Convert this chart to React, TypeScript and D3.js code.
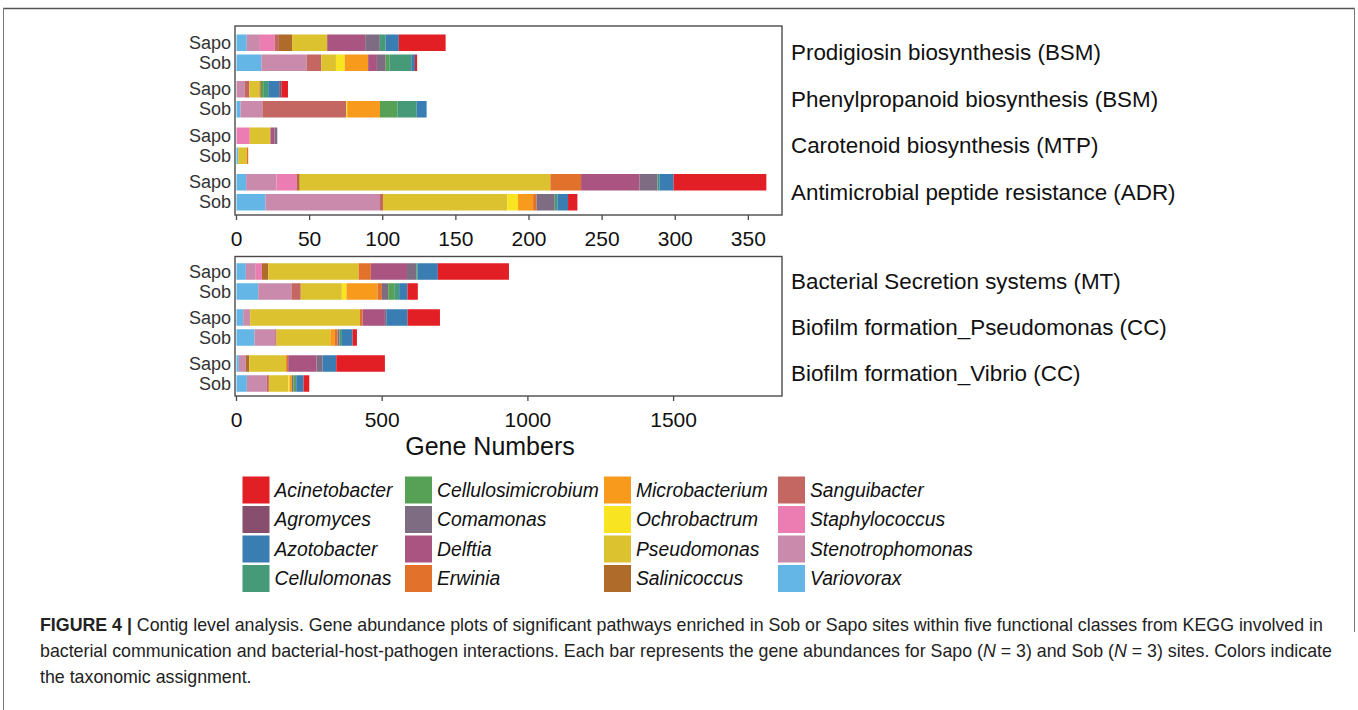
import React from "react";
import * as d3 from "d3";

// ---------- data ----------
const species = [
  "Acinetobacter", "Agromyces", "Azotobacter", "Cellulomonas",
  "Cellulosimicrobium", "Comamonas", "Delftia", "Erwinia",
  "Microbacterium", "Ochrobactrum", "Pseudomonas", "Salinicoccus",
  "Sanguibacter", "Staphylococcus", "Stenotrophomonas", "Variovorax",
];
const speciesColors = [
  "#E31F26", "#874E6D", "#3A7DB3", "#479A78",
  "#56A155", "#7E6D82", "#AA5581", "#E2712C",
  "#F89B1D", "#F8E421", "#DCC22F", "#AE6B2A",
  "#C46662", "#EC7DB2", "#C98AAC", "#63B6E6",
];
const sites = ["Sapo", "Sob"];
const topPathways = [
  "Prodigiosin biosynthesis (BSM)",
  "Phenylpropanoid biosynthesis (BSM)",
  "Carotenoid biosynthesis (MTP)",
  "Antimicrobial peptide resistance (ADR)",
];
const bottomPathways = [
  "Bacterial Secretion systems (MT)",
  "Biofilm formation_Pseudomonas (CC)",
  "Biofilm formation_Vibrio (CC)",
];
const topTicks = [0, 50, 100, 150, 200, 250, 300, 350];
const bottomTicks = [0, 500, 1000, 1500];

// values in species order (Acinetobacter ... Variovorax)
const prodigiosinSapo = [32, 0, 9, 4, 0, 10, 26, 0, 0, 0, 24, 9, 3, 10, 9, 7];
const prodigiosinSob = [1.5, 0, 2.5, 15, 2.5, 6, 6, 0, 16, 6, 10, 0, 10, 0, 31, 17];
const phenylpropanoidSapo = [4.3, 1.7, 7.5, 3, 2, 0, 0, 1, 0, 0, 7, 0, 3, 0, 5.7, 0];
const phenylpropanoidSob = [0, 0, 6.8, 13.2, 11.9, 0, 0, 0, 22.4, 0.7, 0, 0, 57.3, 0, 15, 2.7];
const carotenoidSapo = [0, 0, 0, 0, 0, 1.8, 2.9, 0, 0, 0, 14.1, 0, 0, 9.1, 0, 0];
const carotenoidSob = [0, 0, 0, 0, 0, 0, 0, 0.9, 0, 0, 5.9, 0, 0, 0, 0, 1.2];
const adrSapo = [63.4, 0, 9.8, 1.2, 0, 12.3, 40, 21, 0, 0, 171.4, 1.8, 0, 14.1, 20.7, 6.6];
const adrSob = [6.4, 0, 7.3, 1.8, 0, 12.5, 0, 2.3, 10.3, 7.3, 85, 0, 2.1, 0, 78.3, 19.8];

const secretionSapo = [244, 0, 69, 5, 0, 32, 124, 42, 0, 0, 310, 22, 0, 21, 34, 32];
const secretionSob = [35.5, 0, 28.6, 17, 20.6, 21.6, 0, 15, 106.5, 16, 141, 0, 32, 0, 114, 74.5];
const biofilmPseudoSapo = [111, 0, 73.3, 0, 0, 4.6, 76.6, 9.2, 0, 0, 376.6, 0, 0, 0, 24, 22.9];
const biofilmPseudoSob = [14.9, 0, 36.6, 8, 0, 6.9, 0, 9.2, 16, 0, 184.3, 0, 4.6, 0, 71, 61.8];
const biofilmVibrioSapo = [167, 0, 47, 0, 0, 20.6, 97.3, 6.9, 0, 0, 127, 11.5, 0, 0, 24, 8];
const biofilmVibrioSob = [19.5, 0, 25.2, 0, 9.2, 5.7, 0, 0, 8, 4.6, 66.4, 0, 6.9, 0, 68.7, 35.5];

const topRows = [
  [prodigiosinSapo, prodigiosinSob],
  [phenylpropanoidSapo, phenylpropanoidSob],
  [carotenoidSapo, carotenoidSob],
  [adrSapo, adrSob],
];
const bottomRows = [
  [secretionSapo, secretionSob],
  [biofilmPseudoSapo, biofilmPseudoSob],
  [biofilmVibrioSapo, biofilmVibrioSob],
];

const captionLines = [
  "Contig level analysis. Gene abundance plots of significant pathways enriched in Sob or Sapo sites within five functional classes from KEGG involved in",
  "bacterial communication and bacterial-host-pathogen interactions. Each bar represents the gene abundances for Sapo (",
  ") and Sob (",
  ") sites. Colors indicate",
  "the taxonomic assignment.",
];

const FONT = "'Liberation Sans', Arial, Helvetica, sans-serif";
const colorScale = d3.scaleOrdinal<string, string>().domain(species).range(speciesColors);

type PanelProps = {
  pathways: string[];
  rows: number[][][];
  xMax: number;
  ticks: number[];
  boxTop: number;
  boxBottom: number;
  bandStart: number;
  bandEnd: number;
};

const BOX_LEFT = 235;
const BOX_RIGHT = 782;

function Panel({ pathways, rows, xMax, ticks, boxTop, boxBottom, bandStart, bandEnd }: PanelProps) {
  const x = d3.scaleLinear().domain([0, xMax]).range([236.5, BOX_RIGHT]);
  const yBand = d3.scaleBand().domain(pathways).range([bandStart, bandEnd]);
  const ySite = d3.scalePoint().domain(sites).range([-10, 10]);
  const barH = 16.5;

  const records: any[] = [];
  pathways.forEach((p, pi) => {
    sites.forEach((s, si) => {
      const rec: any = { pathway: p, site: s };
      species.forEach((sp, k) => (rec[sp] = rows[pi][si][k]));
      records.push(rec);
    });
  });
  const stackKeys = species.slice().reverse();
  const series = d3.stack().keys(stackKeys)(records);

  const yc = (d: any) => (yBand(d.pathway) as number) + yBand.bandwidth() / 2 + (ySite(d.site) as number);

  return (
    <g>
      {series.map((ser) => (
        <g key={ser.key} fill={colorScale(ser.key)}>
          {ser.map((seg: any, i: number) => {
            const w = x(seg[1]) - x(seg[0]);
            if (w <= 0) return null;
            return (
              <rect
                key={i}
                x={x(seg[0])}
                y={yc(seg.data) - barH / 2}
                width={w}
                height={barH}
              />
            );
          })}
        </g>
      ))}
      <rect
        x={BOX_LEFT}
        y={boxTop}
        width={BOX_RIGHT - BOX_LEFT}
        height={boxBottom - boxTop}
        fill="none"
        stroke="#4a4a4a"
        strokeWidth={1.4}
      />
      {records.map((d, i) => (
        <text
          key={"s" + i}
          x={231}
          y={yc(d)}
          textAnchor="end"
          dominantBaseline="central"
          fontSize={18}
          fill="#333"
          fontFamily={FONT}
        >
          {d.site}
        </text>
      ))}
      {pathways.map((p) => (
        <text
          key={p}
          x={791}
          y={(yBand(p) as number) + yBand.bandwidth() / 2}
          dominantBaseline="central"
          fontSize={22.4}
          fill="#111"
          fontFamily={FONT}
        >
          {p}
        </text>
      ))}
      {ticks.map((t) => (
        <g key={t}>
          <line x1={x(t)} x2={x(t)} y1={boxBottom} y2={boxBottom + 5} stroke="#4a4a4a" strokeWidth={1.3} />
          <text
            x={x(t)}
            y={boxBottom + 30.5}
            textAnchor="middle"
            fontSize={21}
            fill="#111"
            fontFamily={FONT}
          >
            {t}
          </text>
        </g>
      ))}
    </g>
  );
}

function Legend() {
  const colX = [242.5, 405, 604, 778];
  const rowTop = 476.5;
  const step = 29.5;
  const sw = 27;
  return (
    <g>
      {species.map((sp, i) => {
        const c = Math.floor(i / 4);
        const r = i % 4;
        const y0 = rowTop + r * step;
        return (
          <g key={sp}>
            <rect x={colX[c]} y={y0} width={sw} height={sw} fill={colorScale(sp)} />
            <text
              x={colX[c] + sw + 5}
              y={y0 + sw / 2}
              dominantBaseline="central"
              fontSize={19.3}
              fontStyle="italic"
              fill="#111"
              fontFamily={FONT}
            >
              {sp}
            </text>
          </g>
        );
      })}
    </g>
  );
}

export default function App() {
  return (
    <svg
      width={1358}
      height={710}
      style={{ position: "absolute", left: 0, top: 0, background: "#fff" }}
      fontFamily={FONT}
    >
      <rect x={0} y={0} width={1358} height={710} fill="#fff" />
      {/* figure frame */}
      <line x1={3} x2={1355} y1={8.5} y2={8.5} stroke="#555" strokeWidth={1.5} />
      <line x1={3.5} x2={3.5} y1={8} y2={710} stroke="#777" strokeWidth={1} />
      <line x1={1354.5} x2={1354.5} y1={8} y2={632} stroke="#777" strokeWidth={1} />

      <Panel
        pathways={topPathways}
        rows={topRows}
        xMax={373}
        ticks={topTicks}
        boxTop={26}
        boxBottom={215}
        bandStart={29.5}
        bandEnd={215.5}
      />
      <Panel
        pathways={bottomPathways}
        rows={bottomRows}
        xMax={1872}
        ticks={bottomTicks}
        boxTop={256.5}
        boxBottom={396}
        bandStart={258.5}
        bandEnd={396.5}
      />
      <text x={490} y={455} textAnchor="middle" fontSize={25} fill="#111" fontFamily={FONT}>
        Gene Numbers
      </text>
      <Legend />
      <g fontFamily={FONT} fontSize={17.8} fill="#222">
        <text x={40} y={631}>
          <tspan fontWeight="bold">FIGURE 4 | </tspan>
          <tspan>{captionLines[0]}</tspan>
        </text>
        <text x={40} y={657}>
          {captionLines[1]}
          <tspan fontStyle="italic">N</tspan>
          {" = 3"}
          {captionLines[2]}
          <tspan fontStyle="italic">N</tspan>
          {" = 3"}
          {captionLines[3]}
        </text>
        <text x={40} y={683}>{captionLines[4]}</text>
      </g>
    </svg>
  );
}
